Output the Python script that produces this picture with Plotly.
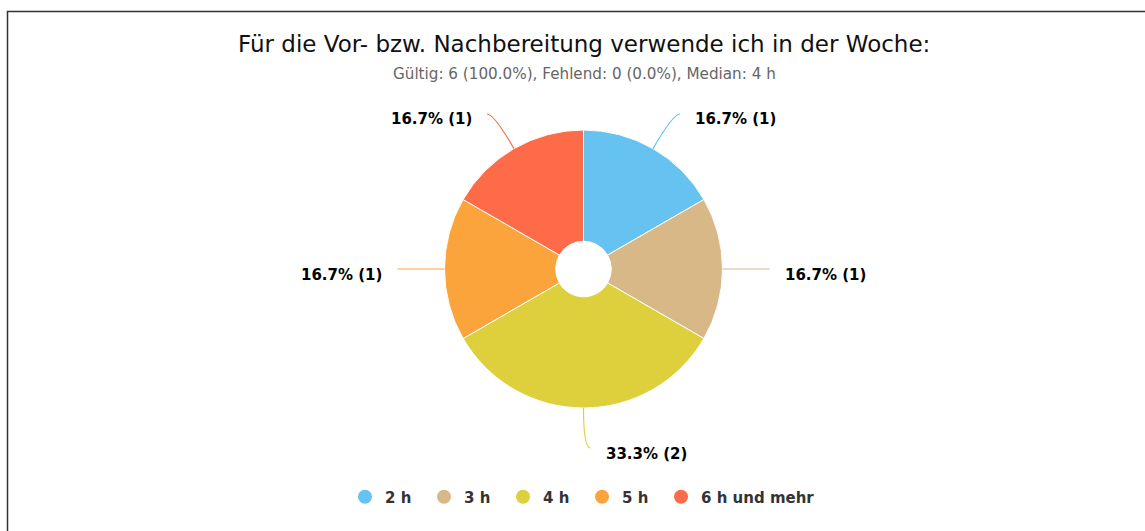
import math
import plotly.graph_objects as go

# ---- data ----
categories = ["2 h", "3 h", "4 h", "5 h", "6 h und mehr"]
counts = [1, 1, 2, 1, 1]
colors = ["#66C2F0", "#D8B887", "#DED03C", "#FBA43B", "#FE6B48"]
title_text = "Für die Vor- bzw. Nachbereitung verwende ich in der Woche:"
subtitle_text = "Gültig: 6 (100.0%), Fehlend: 0 (0.0%), Median: 4 h"

# ---- layout constants (pixels) ----
W, H = 1145, 531
CX, CY, R = 583.5, 269.0, 139.0
DIST = 40.0
PUSH = 7.0
GAP = 13.0
FONT = "DejaVu Sans"


def px(x):
    return x / W


def py(y):
    return 1 - y / H


fig = go.Figure()

fig.add_trace(go.Pie(
    labels=categories,
    values=counts,
    sort=False,
    direction="clockwise",
    rotation=0,
    hole=0.2,
    marker=dict(colors=colors, line=dict(color="white", width=1)),
    textinfo="none",
    hoverinfo="label+value+percent",
    showlegend=False,
    domain=dict(x=[px(CX - R), px(CX + R)], y=[py(CY + R), py(CY - R)]),
))

# legend entries with circle markers (last one in a second legend so it is not clipped)
n = len(categories)
for i, (cat, col) in enumerate(zip(categories, colors)):
    fig.add_trace(go.Scatter(
        x=[None], y=[None], mode="markers", name=cat,
        legend="legend" if i < n - 1 else "legend2",
        marker=dict(color=col, size=14, symbol="circle"),
        hoverinfo="skip",
    ))

# labels with connectors, derived from the data
total = sum(counts)
shapes = []
annotations = []
cum = 0
for cat, c, col in zip(categories, counts, colors):
    mid = (cum + c / 2) / total * 2 * math.pi
    cum += c
    sx, sy = math.sin(mid), -math.cos(mid)
    side = 1 if sx >= -1e-9 else -1
    p0 = (CX + R * sx, CY + R * sy)
    ctrl = (CX + (R + DIST) * sx, CY + (R + DIST) * sy)
    end = (ctrl[0] + side * PUSH, ctrl[1])
    path = "M {} {} Q {} {} {} {}".format(
        px(p0[0]), py(p0[1]), px(ctrl[0]), py(ctrl[1]), px(end[0]), py(end[1]))
    shapes.append(dict(type="path", xref="paper", yref="paper", path=path,
                       line=dict(color=col, width=1.2)))
    txt = "<b>{:.1f}% ({})</b>".format(100 * c / total, c)
    annotations.append(dict(
        x=px(end[0] + side * GAP), y=py(end[1] + 5.5), xref="paper", yref="paper",
        text=txt, showarrow=False,
        xanchor="left" if side > 0 else "right", yanchor="middle",
        font=dict(family=FONT, size=15, color="#000000"),
    ))

# title & subtitle
annotations.append(dict(
    x=px(584), y=py(44), xref="paper", yref="paper", text=title_text, showarrow=False,
    xanchor="center", yanchor="middle",
    font=dict(family=FONT, size=23, color="#111111"),
))
annotations.append(dict(
    x=px(584), y=py(74), xref="paper", yref="paper", text=subtitle_text, showarrow=False,
    xanchor="center", yanchor="middle",
    font=dict(family=FONT, size=15.2, color="#666666"),
))

# frame
shapes.append(dict(type="rect", xref="paper", yref="paper",
                   x0=px(7.5), x1=1.02, y0=-0.02, y1=py(11.5),
                   line=dict(color="#333333", width=1.5)))

legend_font = dict(family=FONT, size=15, color="#333333", weight="bold")
fig.update_layout(
    width=W, height=H,
    margin=dict(l=0, r=0, t=0, b=0),
    paper_bgcolor="white", plot_bgcolor="white",
    xaxis=dict(visible=False), yaxis=dict(visible=False),
    shapes=shapes, annotations=annotations,
    legend=dict(orientation="h", x=px(345), xanchor="left", y=py(497), yanchor="middle",
                font=legend_font, entrywidthmode="pixels", entrywidth=34, itemclick=False),
    legend2=dict(orientation="h", x=px(661), xanchor="left", y=py(497), yanchor="middle",
                 font=legend_font, itemclick=False),
    font=dict(family=FONT),
)

fig.write_html("out.html")
